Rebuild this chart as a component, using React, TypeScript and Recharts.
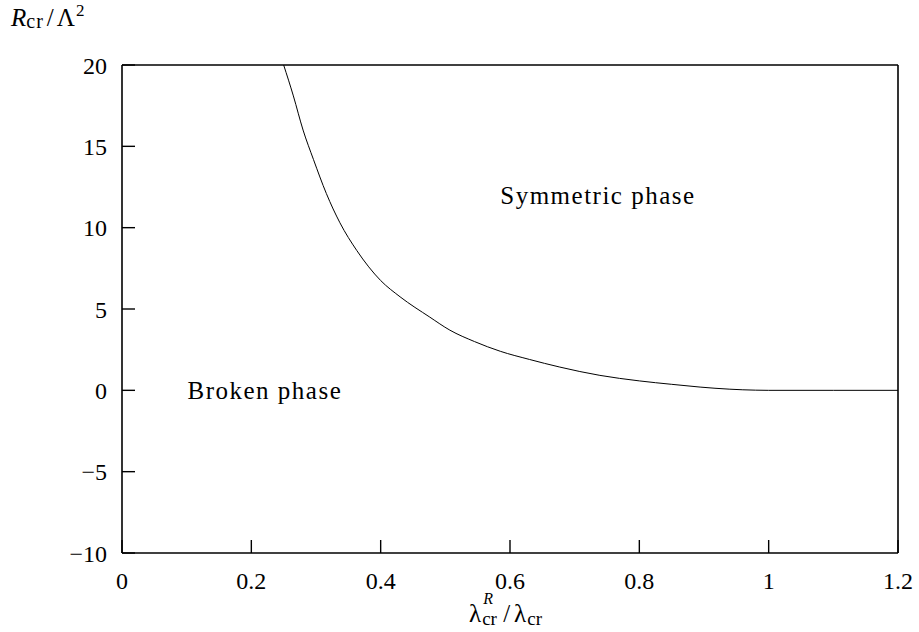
import { Line, LineChart, ReferenceDot, XAxis, YAxis } from "recharts";

const lambdaRatio = [0.25, 0.265, 0.28, 0.296, 0.316, 0.337, 0.363, 0.4, 0.43, 0.476, 0.507, 0.545, 0.585, 0.63, 0.677, 0.739, 0.8, 0.85, 0.894, 0.94, 0.98, 1.0, 1.1, 1.2];
const criticalR = [20, 18.1, 16.0, 14.2, 12.1, 10.3, 8.6, 6.75, 5.75, 4.5, 3.7, 3.0, 2.4, 1.9, 1.43, 0.92, 0.58, 0.37, 0.2, 0.07, 0.01, 0, 0, 0];

const xTicks = [0, 0.2, 0.4, 0.6, 0.8, 1, 1.2];
const yTicks = [-10, -5, 0, 5, 10, 15, 20];

const phaseLabels = [
  { x: 0.736, y: 12, text: "Symmetric phase" },
  { x: 0.221, y: 0, text: "Broken phase" },
];

const data = lambdaRatio.map((x, i) => ({ x, y: criticalR[i] }));

const font = '"Liberation Serif", "DejaVu Serif", serif';
const black = "#000";
const tickStyle = { fill: black, fontSize: 24, fontFamily: font };
const axisLine = { stroke: black, strokeWidth: 1.6 };
const tickLine = { stroke: black, strokeWidth: 1.4 };

const fmt = (v: number) => (v < 0 ? `\u2212${Math.abs(v)}` : `${v}`);

const App = () => {
  return (
    <div style={{ position: "absolute", left: 0, top: 0, width: 919, height: 632, background: "#fff", fontFamily: font }}>
      <LineChart width={919} height={632} data={data} margin={{ top: 64, right: 20, bottom: 39, left: 62 }}>
        <XAxis
          xAxisId="bottom"
          dataKey="x"
          type="number"
          domain={[0, 1.2]}
          ticks={xTicks}
          height={40}
          tickSize={-13}
          tickMargin={32}
          axisLine={axisLine}
          tickLine={tickLine}
          tick={tickStyle}
          allowDataOverflow
        />
        <XAxis
          xAxisId="top"
          orientation="top"
          dataKey="x"
          type="number"
          domain={[0, 1.2]}
          ticks={xTicks}
          height={1}
          tickSize={-13}
          axisLine={axisLine}
          tickLine={tickLine}
          tick={false}
        />
        <YAxis
          yAxisId="left"
          type="number"
          domain={[-10, 20]}
          ticks={yTicks}
          width={60}
          tickSize={-13}
          tickMargin={28}
          axisLine={axisLine}
          tickLine={tickLine}
          tick={tickStyle}
          tickFormatter={fmt}
          allowDataOverflow
        />
        <YAxis
          yAxisId="right"
          orientation="right"
          type="number"
          domain={[-10, 20]}
          ticks={yTicks}
          width={1}
          tickSize={-13}
          axisLine={axisLine}
          tickLine={tickLine}
          tick={false}
        />
        <Line
          xAxisId="bottom"
          yAxisId="left"
          type="monotone"
          dataKey="y"
          stroke={black}
          strokeWidth={1}
          dot={false}
          isAnimationActive={false}
        />
        {phaseLabels.map((p) => (
          <ReferenceDot
            key={p.text}
            xAxisId="bottom"
            yAxisId="left"
            x={p.x}
            y={p.y}
            r={1}
            fill="none"
            stroke="none"
            label={{ value: p.text, position: "center", fill: black, fontSize: 25, fontFamily: font, letterSpacing: 1.5 }}
          />
        ))}
      </LineChart>
      {/* y-axis title */}
      <div style={{ position: "absolute", left: 11, top: 4, fontSize: 25, lineHeight: "28px", color: black, whiteSpace: "nowrap" }}>
        <i>R</i>
        <span style={{ fontSize: 20, letterSpacing: 1, position: "relative", top: 2 }}>cr</span>
        <span style={{ margin: "0 3px" }}>/</span>
        <span>Λ</span>
        <span style={{ fontSize: 17, position: "relative", top: -10, marginLeft: 1 }}>2</span>
      </div>
      {/* x-axis title */}
      <div style={{ position: "absolute", left: 469, top: 600, fontSize: 25, lineHeight: "28px", color: black, whiteSpace: "nowrap" }}>
        <span>λ</span>
        <span style={{ display: "inline-block", position: "relative", width: 18, height: 1 }}>
          <i style={{ position: "absolute", left: 2, top: -30, fontSize: 16, lineHeight: "16px" }}>R</i>
          <span style={{ position: "absolute", left: 1, top: -12, fontSize: 19, lineHeight: "20px" }}>cr</span>
        </span>
        <span style={{ margin: "0 4px" }}>/</span>
        <span>λ</span>
        <span style={{ fontSize: 19, position: "relative", top: 3, marginLeft: 1 }}>cr</span>
      </div>
    </div>
  );
};

export default App;
